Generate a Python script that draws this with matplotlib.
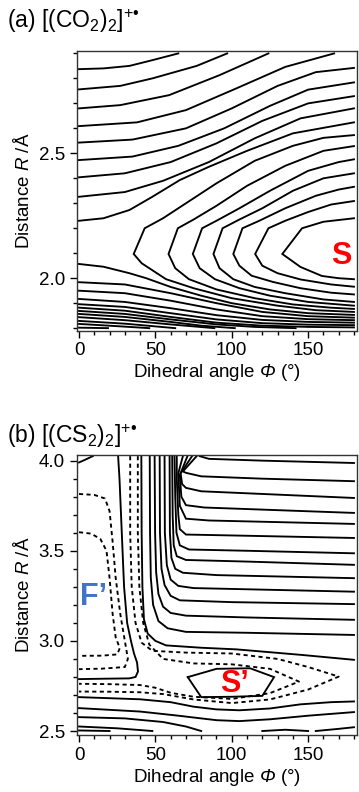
import matplotlib
matplotlib.use("Agg")
import matplotlib.pyplot as plt
from matplotlib.ticker import MultipleLocator, FormatStrFormatter

plt.rcParams['font.family'] = ['Liberation Sans', 'DejaVu Sans']
plt.rcParams['mathtext.fontset'] = 'custom'
plt.rcParams['mathtext.rm'] = 'Liberation Sans'
plt.rcParams['mathtext.it'] = 'Liberation Sans:italic'
plt.rcParams['mathtext.cal'] = 'Liberation Sans:italic'   # used for an italic Phi

# ---- panel (a) [(CO2)2]+ : contour lines, (phi, R) ----
a_upper = [
    [(0, 2.837), (16, 2.840), (33, 2.850), (48, 2.873), (65, 2.90)],
    [(0, 2.756), (27, 2.770), (48, 2.800), (77, 2.850), (97, 2.90)],
    [(0, 2.680), (27, 2.693), (59, 2.733), (92, 2.813), (124, 2.90)],
    [(0, 2.609), (38, 2.624), (70, 2.673), (103, 2.760), (135, 2.846), (167, 2.90)],
    [(0, 2.543), (35, 2.555), (70, 2.600), (100, 2.680), (130, 2.770), (155, 2.825), (180, 2.842)],
    [(0, 2.473), (35, 2.487), (65, 2.530), (95, 2.600), (125, 2.690), (150, 2.755), (180, 2.784)],
    [(0, 2.404), (30, 2.420), (60, 2.465), (90, 2.540), (120, 2.630), (150, 2.700), (180, 2.729)],
    [(0, 2.326), (30, 2.345), (55, 2.390), (85, 2.465), (115, 2.560), (145, 2.640), (180, 2.680)],
    [(0, 2.230), (16, 2.240), (33, 2.273), (48, 2.326), (66, 2.393), (85, 2.446), (110, 2.510), (140, 2.580), (180, 2.624)],
]
a_wells = [
    [(180, 2.573), (160, 2.562), (140, 2.530), (115, 2.470), (90, 2.380), (70, 2.300), (55, 2.240), (43, 2.200),
     (35.8, 2.097), (41, 2.060), (57, 1.996), (75, 1.960), (100, 1.920), (130, 1.890), (155, 1.872), (180, 1.865)],
    [(180, 2.529), (160, 2.510), (135, 2.450), (110, 2.370), (90, 2.290), (75, 2.235), (64.7, 2.200),
     (58.6, 2.097), (63, 2.040), (72, 1.996), (90, 1.955), (115, 1.920), (140, 1.895), (165, 1.882), (180, 1.877)],
    [(180, 2.476), (170, 2.465), (150, 2.430), (125, 2.350), (105, 2.280), (90, 2.230), (80.6, 2.200),
     (74.5, 2.097), (79, 2.040), (89, 1.996), (105, 1.960), (125, 1.930), (150, 1.905), (180, 1.890)],
    [(180, 2.420), (160, 2.400), (140, 2.350), (120, 2.280), (105, 2.235), (94, 2.200),
     (88, 2.097), (92, 2.040), (101, 1.996), (115, 1.965), (135, 1.940), (160, 1.915), (180, 1.905)],
    [(180, 2.366), (170, 2.355), (155, 2.330), (135, 2.280), (118, 2.230), (107, 2.200),
     (101, 2.097), (105, 2.050), (113, 2.010), (127, 1.985), (145, 1.960), (165, 1.942), (180, 1.935)],
    [(180, 2.309), (165, 2.295), (150, 2.265), (135, 2.230), (124, 2.200),
     (115.3, 2.097), (120, 2.050), (130, 2.020), (145, 1.995), (165, 1.975), (180, 1.966)],
    [(180, 2.240), (160, 2.226), (146, 2.200),
     (133.1, 2.097), (145, 2.045), (159, 2.009), (170, 2.000), (180, 1.996)],
]
a_lower = [
    [(0, 2.057), (16, 2.046), (33, 2.020), (44, 2.000), (60, 1.965), (80, 1.930), (100, 1.900), (125, 1.875), (150, 1.860), (180, 1.853)],
    [(0, 1.984), (30, 1.975), (60, 1.940), (90, 1.900), (120, 1.865), (150, 1.848), (180, 1.842)],
    [(0, 1.950), (30, 1.940), (60, 1.910), (90, 1.875), (120, 1.848), (150, 1.836), (180, 1.832)],
    [(0, 1.917), (30, 1.905), (60, 1.880), (90, 1.852), (120, 1.833), (150, 1.825), (180, 1.822)],
    [(0, 1.896), (30, 1.885), (60, 1.860), (90, 1.835), (120, 1.820), (150, 1.814), (180, 1.812)],
    [(0, 1.882), (30, 1.870), (60, 1.845), (90, 1.822), (120, 1.810), (150, 1.805), (180, 1.803)],
    [(0, 1.869), (30, 1.857), (60, 1.835), (90, 1.815), (115, 1.805), (141.8, 1.800)],
    [(0, 1.857), (30, 1.845), (60, 1.825), (80, 1.810), (102, 1.800)],
    [(0, 1.844), (30, 1.832), (60, 1.815), (88.6, 1.800)],
    [(0, 1.829), (30, 1.818), (63, 1.800)],
    [(0, 1.817), (25, 1.808), (46, 1.800)],
    [(0, 1.802), (19, 1.800)],
]

# ---- panel (b) [(CS2)2]+ ----
b_solid = [
    [(0, 3.990), (4, 4.005), (9, 4.025)],
    # F' boundary
    [(25.6, 4.025), (26.5, 3.90), (28, 3.60), (29.5, 3.30), (31.5, 3.10), (34, 3.00), (36, 2.93),
     (38, 2.88), (38.6, 2.83), (37, 2.80), (33, 2.792), (15, 2.790), (0, 2.788)],
    # wall lines turning to the right
    [(40.8, 4.025), (41, 3.60), (41.5, 3.30), (42.5, 3.12), (45, 3.04), (50, 3.00), (57, 2.975), (80, 2.962),
     (103, 2.953), (146, 2.922), (180, 2.895)],
    [(46.3, 4.025), (46.5, 3.60), (47, 3.35), (48.5, 3.20), (52, 3.11), (58, 3.07), (70, 3.050), (110, 3.045), (180, 3.033)],
    [(49.5, 4.025), (49.8, 3.60), (50.5, 3.38), (52, 3.26), (55, 3.19), (60, 3.155), (70, 3.140), (110, 3.130), (180, 3.117)],
    [(52.8, 4.025), (53, 3.60), (54, 3.40), (56, 3.31), (60, 3.25), (66, 3.225), (100, 3.215), (180, 3.204)],
    [(56, 4.025), (56.2, 3.60), (57.5, 3.42), (60, 3.34), (65, 3.305), (75, 3.293), (180, 3.273)],
    [(59.3, 4.025), (59.5, 3.60), (60.5, 3.46), (63, 3.40), (68, 3.378), (90, 3.365), (180, 3.348)],
    [(61, 4.025), (61.3, 3.70), (62, 3.53), (64, 3.47), (70, 3.449), (110, 3.440), (180, 3.422)],
    [(62.5, 4.025), (63, 3.80), (63.8, 3.60), (66, 3.53), (72, 3.507), (110, 3.500), (180, 3.486)],
    [(64, 4.025), (64, 3.90), (65, 3.70), (66, 3.62), (70, 3.590), (100, 3.585), (180, 3.571)],
    [(68, 4.025), (65, 3.93), (66, 3.75), (70, 3.678), (85, 3.668), (180, 3.649)],
    [(71, 4.025), (66, 3.92), (67, 3.80), (70, 3.753), (82, 3.740), (180, 3.710)],
    [(74, 4.025), (66.5, 3.93), (67.5, 3.87), (70, 3.849), (80, 3.830), (180, 3.793)],
    [(77, 4.025), (68, 3.94), (70.2, 3.932), (80, 3.913), (120, 3.900), (180, 3.886)],
    [(79, 4.025), (85, 4.010), (120, 4.000), (180, 3.987)],
    # S' basin
    [(71.2, 2.799), (90, 2.845), (112, 2.848), (127.7, 2.799), (120, 2.695), (100, 2.690), (80, 2.688), (71.2, 2.799)],
    # below S'
    [(0, 2.688), (40, 2.676), (60, 2.660), (75, 2.635), (90, 2.620), (105, 2.615), (125, 2.625), (145, 2.648), (165, 2.660), (180, 2.664)],
    [(0, 2.627), (40, 2.608), (65, 2.585), (90, 2.560), (105, 2.555), (125, 2.565), (150, 2.585), (180, 2.605)],
    [(0, 2.577), (30, 2.570), (55, 2.550), (70, 2.525), (80, 2.500)],
    [(0, 2.525), (25, 2.515), (48, 2.500)],
    [(0, 2.503), (20, 2.500)],
    [(120, 2.500), (135, 2.507), (150, 2.500)],
    [(155, 2.500), (170, 2.512), (180, 2.521)],
]
b_dashed = [
    # F' well
    [(0, 3.815), (10, 3.810), (17, 3.790), (20, 3.720), (22, 3.550), (24, 3.350), (27, 3.150), (30, 3.000),
     (32, 2.900), (30, 2.855), (15, 2.846), (0, 2.843)],
    [(0, 3.603), (8, 3.595), (14, 3.565), (18, 3.500), (20, 3.350), (22, 3.150), (24, 3.020), (26.7, 2.960),
     (25, 2.925), (15, 2.918), (0, 2.917)],
    # S' well and the channel
    [(33.5, 4.025), (33.5, 3.60), (34.5, 3.30), (37, 3.10), (41, 2.990), (48, 2.945), (70, 2.935), (100, 2.930),
     (130, 2.900), (150, 2.855), (170, 2.802), (150, 2.730), (125, 2.675), (100, 2.655), (75, 2.675),
     (55, 2.705), (40, 2.715), (20, 2.718), (0, 2.719)],
    [(38.5, 4.025), (38.5, 3.60), (39.5, 3.30), (42, 3.10), (46, 2.980), (55, 2.900), (75, 2.875), (100, 2.870),
     (125, 2.845), (144, 2.774), (125, 2.710), (100, 2.678), (75, 2.690), (60, 2.712), (50, 2.740),
     (40, 2.755), (20, 2.760), (0, 2.762)],
]

fig = plt.figure(figsize=(3.59, 7.92), dpi=100)
ax_a = fig.add_axes([0.2137, 0.5825, 0.7808, 0.3532])
ax_b = fig.add_axes([0.2137, 0.0720, 0.7808, 0.3532])


def draw(ax, lines, ls='-'):
    for ln in lines:
        x, y = zip(*ln)
        ax.plot(x, y, color='black', lw=1.35, ls=ls, solid_joinstyle='miter')


draw(ax_a, a_upper)
draw(ax_a, a_wells)
draw(ax_a, a_lower)
draw(ax_b, b_solid)
draw(ax_b, b_dashed, ls=(0, (2.2, 1.8)))

for ax in (ax_a, ax_b):
    ax.set_xlim(-1.5, 182)
    ax.xaxis.set_major_locator(MultipleLocator(50))
    ax.xaxis.set_minor_locator(MultipleLocator(10))
    ax.yaxis.set_major_locator(MultipleLocator(0.5))
    ax.yaxis.set_minor_locator(MultipleLocator(0.1))
    ax.yaxis.set_major_formatter(FormatStrFormatter('%.1f'))
    ax.tick_params(which='major', direction='out', length=5, width=1, labelsize=13.5, top=False, right=False)
    ax.tick_params(which='minor', direction='out', length=3, width=1, top=False, right=False)
    for s in ax.spines.values():
        s.set_linewidth(1.0)
        s.set_color('#333333')
    ax.set_xlabel(r'Dihedral angle $\mathcal{\Phi}$ (°)', fontsize=13.5, labelpad=2)
    ax.set_ylabel(r'Distance $R$ /Å', fontsize=13.5, labelpad=4)

ax_a.set_ylim(1.79, 2.91)
ax_b.set_ylim(2.478, 4.03)

ax_a.text(172, 2.09, 'S', color='red', fontsize=22, fontweight='bold', ha='center', va='center')
ax_b.text(102, 2.762, 'S\u2019', color='red', fontsize=22, fontweight='bold', ha='center', va='center')
ax_b.text(0.5, 3.244, 'F\u2019', color='#4472C4', fontsize=22, fontweight='bold', ha='left', va='center')

fig.text(0.02, 1 - 21 / 792, '(a) [(CO$_2$)$_2$]$^{+\u2022}$', fontsize=16.5, va='center', ha='left')
fig.text(0.02, 1 - 436 / 792, '(b) [(CS$_2$)$_2$]$^{+\u2022}$', fontsize=16.5, va='center', ha='left')

fig.savefig('out.png', dpi=100)
